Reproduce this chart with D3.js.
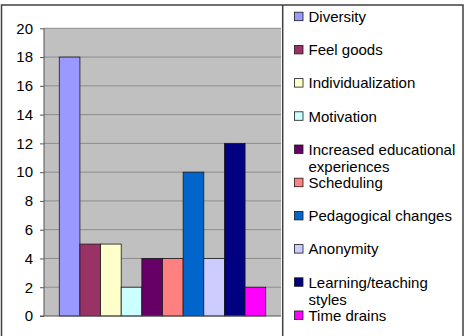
<html lang="en">
<head>
<style>
body { margin: 0; background: #fff; }
text { font-family: "Liberation Sans", Arial, sans-serif; fill: #000; }
</style>
</head>
<body>
<div id="chart"></div>
<script src="https://d3js.org/d3.v7.min.js"></script>
<script>
// data
const seriesNames = ["Diversity", "Feel goods", "Individualization", "Motivation",
  "Increased educational experiences", "Scheduling", "Pedagogical changes",
  "Anonymity", "Learning/teaching styles", "Time drains"];
const seriesValues = [18, 5, 5, 2, 4, 4, 10, 4, 12, 2];
const seriesColors = ["#9999ff", "#993366", "#ffffcc", "#ccffff", "#660066",
  "#ff8080", "#0066cc", "#ccccff", "#000080", "#ff00ff"];
const yTicks = [0, 2, 4, 6, 8, 10, 12, 14, 16, 18, 20];
// legend lines (wrapped like the original)
const legendLines = [["Diversity"], ["Feel goods"], ["Individualization"], ["Motivation"],
  ["Increased educational", "experiences"], ["Scheduling"], ["Pedagogical changes"],
  ["Anonymity"], ["Learning/teaching", "styles"], ["Time drains"]];

const W = 468, H = 336;
const plot = {left: 44, top: 28.3, right: 281, bottom: 316};

const svg = d3.select("#chart").append("svg")
  .attr("width", W).attr("height", H);

// outer chart border
svg.append("rect")
  .attr("x", 1.5).attr("y", 5).attr("width", 461.5).attr("height", 340)
  .attr("fill", "#fff").attr("stroke", "#404040").attr("stroke-width", 1.5);

// plot background
svg.append("rect")
  .attr("x", plot.left).attr("y", plot.top)
  .attr("width", plot.right - plot.left).attr("height", plot.bottom - plot.top)
  .attr("fill", "#c0c0c0");

const y = d3.scaleLinear().domain([0, 20]).range([plot.bottom, plot.top]);

const x0 = d3.scaleBand().domain(["all"]).range([plot.left, plot.right])
  .paddingInner(0).paddingOuter(0.074);
const x1 = d3.scaleBand().domain(seriesNames).range([0, x0.bandwidth()]).padding(0);

// gridlines
svg.append("g")
  .selectAll("line").data(yTicks.filter(d => d > 0)).enter().append("line")
  .attr("x1", plot.left).attr("x2", plot.right)
  .attr("y1", d => y(d)).attr("y2", d => y(d))
  .attr("stroke", "#8c8c8c").attr("stroke-width", 1);

// bars
svg.append("g")
  .selectAll("rect").data(seriesNames).enter().append("rect")
  .attr("x", d => x0("all") + x1(d))
  .attr("y", (d, i) => y(seriesValues[i]))
  .attr("width", x1.bandwidth())
  .attr("height", (d, i) => y(0) - y(seriesValues[i]))
  .attr("fill", (d, i) => seriesColors[i])
  .attr("stroke", "#1a1a1a").attr("stroke-width", 0.8);

// y axis
const yAxis = svg.append("g")
  .attr("transform", "translate(" + plot.left + ",0)")
  .call(d3.axisLeft(y).tickValues(yTicks).tickSize(4).tickPadding(7));
yAxis.select(".domain").attr("stroke", "#555").attr("d", "M0," + plot.top + "V" + plot.bottom);
yAxis.selectAll(".tick line").attr("stroke", "#555");
yAxis.selectAll("text").style("font-size", "15px").attr("fill", "#000");

// x axis line
svg.append("line")
  .attr("x1", plot.left - 4).attr("x2", plot.right)
  .attr("y1", plot.bottom).attr("y2", plot.bottom)
  .attr("stroke", "#555");

// legend box
svg.append("line")
  .attr("x1", 282.7).attr("x2", 282.7).attr("y1", 5).attr("y2", H)
  .attr("stroke", "#404040").attr("stroke-width", 1.5);

const legend = svg.append("g");
const item = legend.selectAll("g").data(seriesNames).enter().append("g")
  .attr("transform", (d, i) => "translate(294.5," + (16.7 + i * 33.2) + ")");
item.append("rect")
  .attr("x", 0).attr("y", -4.5).attr("width", 8.5).attr("height", 8.5)
  .attr("fill", (d, i) => seriesColors[i])
  .attr("stroke", "#1a1a1a").attr("stroke-width", 0.8);
item.append("text")
  .attr("x", 14).attr("y", 0)
  .style("font-size", "15px")
  .selectAll("tspan").data((d, i) => legendLines[i]).enter().append("tspan")
  .attr("x", 14)
  .attr("dy", (d, j) => j === 0 ? "0.35em" : "17.6px")
  .text(d => d);
</script>
</body>
</html>
